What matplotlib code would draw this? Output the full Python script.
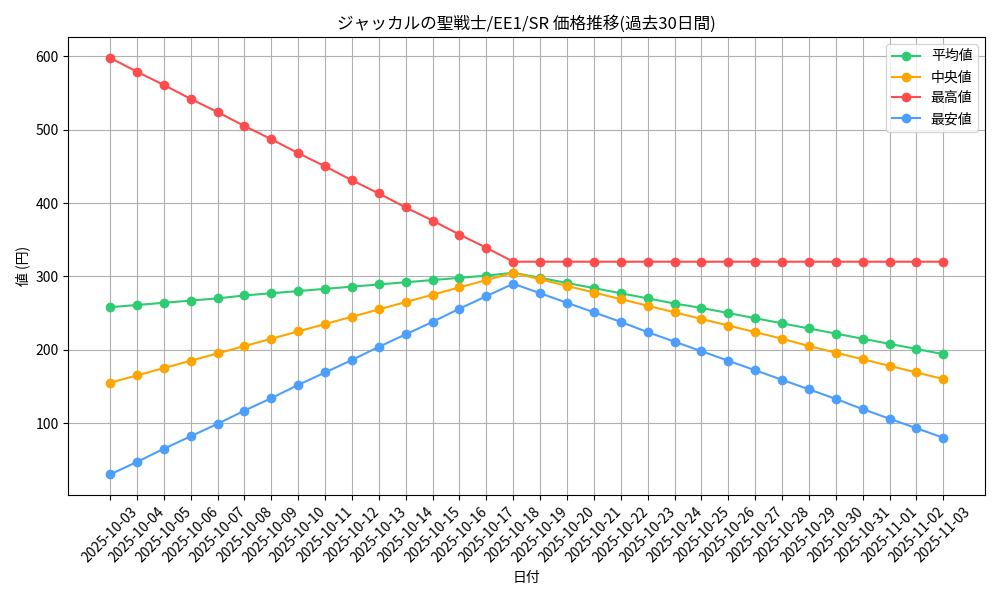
import matplotlib
matplotlib.use("Agg")
import matplotlib.pyplot as plt
import pandas as pd

plt.rcParams['font.family'] = ['Noto Sans CJK JP', 'DejaVu Sans']

# 30-day price history
dates = pd.date_range("2025-10-03", "2025-11-03").strftime("%Y-%m-%d").tolist()

avg_price = [258, 261, 264, 267, 270, 274, 277, 280, 283, 286, 289, 292, 295, 298, 301, 305,
             298, 291, 284, 277, 270, 263, 257, 250, 243, 236, 229, 222, 215, 208, 201, 194]
median_price = [155, 165, 175, 185, 195, 205, 215, 225, 235, 245, 255, 265, 275, 285, 295, 305,
                296, 287, 278, 269, 260, 251, 242, 233, 224, 215, 205, 196, 187, 178, 169, 160]
max_price = [598, 579, 561, 542, 524, 505, 487, 468, 450, 431, 413, 394, 376, 357, 339, 320,
             320, 320, 320, 320, 320, 320, 320, 320, 320, 320, 320, 320, 320, 320, 320, 320]
min_price = [30, 47, 65, 82, 99, 117, 134, 152, 169, 186, 204, 221, 238, 256, 273, 290,
             277, 264, 251, 238, 224, 211, 198, 185, 172, 159, 146, 133, 119, 106, 93, 80]

fig, ax = plt.subplots(figsize=(10, 6), dpi=100)

ax.plot(dates, avg_price, marker='o', color='#2ecc71', label='平均値')
ax.plot(dates, median_price, marker='o', color='#ffa500', label='中央値')
ax.plot(dates, max_price, marker='o', color='#ff4d4d', label='最高値')
ax.plot(dates, min_price, marker='o', color='#4d9fff', label='最安値')

ax.set_title('ジャッカルの聖戦士/EE1/SR 価格推移(過去30日間)')
ax.set_xlabel('日付')
ax.set_ylabel('値 (円)')
ax.grid(True)
ax.legend(loc='upper right')
plt.xticks(rotation=45)

plt.tight_layout()
plt.savefig('out.png')
